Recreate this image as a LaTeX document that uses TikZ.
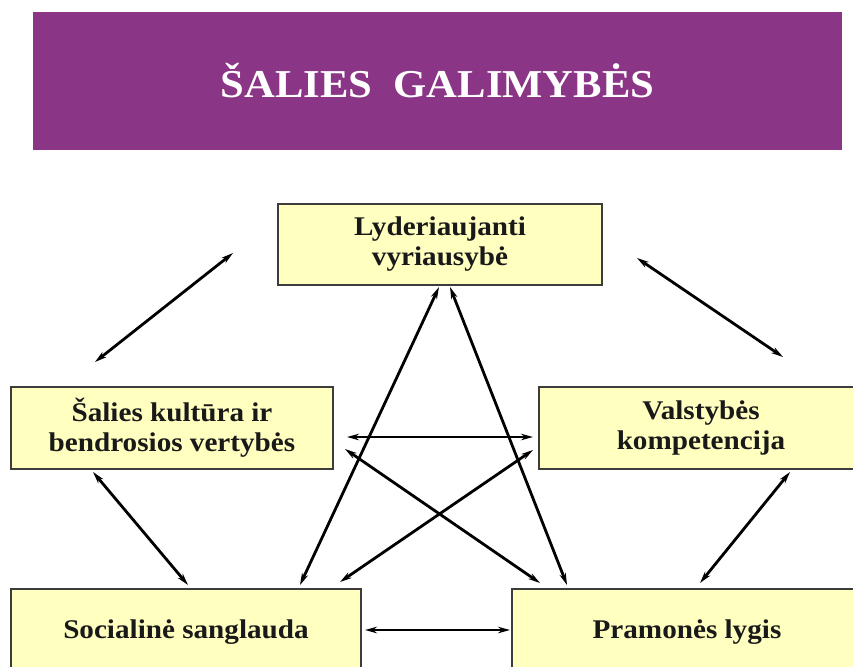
\documentclass[tikz,border=0pt]{standalone}
\usepackage{fontspec}
\setmainfont{Liberation Serif}[FakeStretch=1.08]
\usetikzlibrary{arrows.meta}
\definecolor{titlepurple}{RGB}{139,53,135}
\definecolor{boxyellow}{RGB}{255,255,192}
\definecolor{boxedge}{RGB}{60,60,60}
\tikzset{
  box/.style={draw=boxedge, line width=1.5pt, fill=boxyellow, rectangle, inner sep=0pt,
    align=center, font=\bfseries\fontsize{27}{30}\selectfont, text=black!90},
  link/.style={line width=2.8pt, {Stealth[length=12pt,width=6.5pt]}-{Stealth[length=12pt,width=6.5pt]}},
}
\begin{document}
\begin{tikzpicture}[x=1pt,y=-1pt]
\useasboundingbox (0,0) rectangle (853,666);
\clip (0,0) rectangle (853,666);
\fill[white] (0,0) rectangle (853,666);
\node[fill=titlepurple, minimum width=809pt, minimum height=138pt, inner sep=0pt,
  text=white, font=\bfseries\fontsize{39.5}{44}\selectfont] (title) at (437.5,81) {ŠALIES\ \ GALIMYBĖS};
\node[box, minimum width=324pt, minimum height=81pt] (lead) at (440,244.5) {Lyderiaujanti\\vyriausybė};
\node[box, minimum width=322pt, minimum height=82pt] (cult) at (172,428) {Šalies kultūra ir\\bendrosios vertybės};
\node[box, minimum width=324pt, minimum height=82pt] (comp) at (701,428) {Valstybės\\kompetencija};
\node[box, minimum width=350pt, minimum height=86pt] (soc) at (186,632) {Socialinė sanglauda};
\node[box, minimum width=350pt, minimum height=86pt] (ind) at (687,632) {Pramonės lygis};
% connector ends
\coordinate (a1s) at (233,253); \coordinate (a1e) at (95,362);
\coordinate (a2s) at (637,258); \coordinate (a2e) at (783,357);
\coordinate (a3s) at (93,472);  \coordinate (a3e) at (188,585);
\coordinate (a4s) at (300,585); \coordinate (a4e) at (439,287);
\coordinate (a5s) at (450,287); \coordinate (a5e) at (567,585);
\coordinate (a6s) at (347,437); \coordinate (a6e) at (533,437);
\coordinate (a7s) at (345,449); \coordinate (a7e) at (540,583);
\coordinate (a8s) at (340,582); \coordinate (a8e) at (533,450);
\coordinate (a9s) at (365,630); \coordinate (a9e) at (510,630);
\coordinate (a10s) at (790,472); \coordinate (a10e) at (700,583);
\foreach \i in {1,...,10} {\draw[link] (a\i s) -- (a\i e);}
\end{tikzpicture}
\end{document}
